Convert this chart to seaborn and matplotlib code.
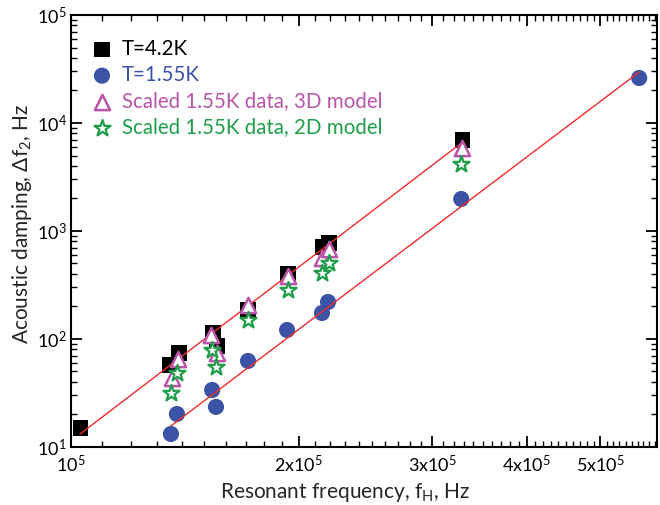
import matplotlib
matplotlib.use("Agg")
import matplotlib.pyplot as plt
import seaborn as sns
import numpy as np
import pandas as pd
from matplotlib.ticker import FixedLocator, FixedFormatter, LogLocator, NullFormatter

# ---------------- data ----------------
f_42 = [1.03e5, 1.351e5, 1.389e5, 1.540e5, 1.559e5, 1.713e5, 1.935e5, 2.152e5, 2.192e5, 3.286e5]
d_42 = [15.0, 57.4, 74.2, 113.6, 86.1, 185.6, 400, 711, 774, 6960]

f_155 = [1.355e5, 1.380e5, 1.536e5, 1.554e5, 1.713e5, 1.929e5, 2.145e5, 2.185e5, 3.276e5, 5.628e5]
d_155 = [13.2, 20.2, 33.7, 23.5, 62.6, 121, 174, 220, 1978, 26100]

f_3d = [1.359e5, 1.385e5, 1.531e5, 1.559e5, 1.713e5, 1.935e5, 2.145e5, 2.192e5, 3.286e5]
d_3d = [43.5, 65.3, 108.9, 74.2, 206, 383, 562, 681, 5870]

f_2d = [1.355e5, 1.380e5, 1.536e5, 1.554e5, 1.713e5, 1.935e5, 2.145e5, 2.192e5, 3.276e5]
d_2d = [31.6, 48.4, 79.1, 55.0, 150, 284, 408, 505, 4170]

fit_hi_f = [1.028e5, 3.265e5]
fit_hi_d = [13.2, 6397]
fit_lo_f = [1.355e5, 5.628e5]
fit_lo_d = [15.65, 29650]

labels = ["T=4.2K", "T=1.55K", "Scaled 1.55K data, 3D model", "Scaled 1.55K data, 2D model"]
x_ticks = [1e5, 2e5, 3e5, 4e5, 5e5]
x_ticklabels = ["$10^{5}$", "2x$10^{5}$", "3x$10^{5}$", "4x$10^{5}$", "5x$10^{5}$"]
y_ticks = [1e1, 1e2, 1e3, 1e4, 1e5]
y_ticklabels = ["$10^{1}$", "$10^{2}$", "$10^{3}$", "$10^{4}$", "$10^{5}$"]

# ---------------- style ----------------
sns.set_theme(style="ticks")
plt.rcParams["font.family"] = ["Lato", "DejaVu Sans"]
plt.rcParams["mathtext.fontset"] = "custom"
plt.rcParams["mathtext.rm"] = "Lato"
plt.rcParams["mathtext.it"] = "Lato:italic"
plt.rcParams["mathtext.default"] = "regular"

c_black = "#000000"
c_blue = "#3b53a4"
c_mag = "#b955aa"
c_green = "#1f9e4a"
c_red = "#ee2a2a"

fig = plt.figure(figsize=(6.6, 5.05), dpi=100)
ax = fig.add_axes([0.1076, 0.1149, 0.888, 0.8554])
ax.set_xscale("log")
ax.set_yscale("log")

sns.scatterplot(x=f_42, y=d_42, marker="s", s=120, color=c_black, edgecolor="none",
                label=labels[0], ax=ax, zorder=2)
sns.scatterplot(x=f_155, y=d_155, marker="o", s=135, color=c_blue, edgecolor="none",
                label=labels[1], ax=ax, zorder=2)
sns.lineplot(x=fit_hi_f, y=fit_hi_d, color=c_red, lw=1.0, ax=ax, zorder=3, legend=False)
sns.lineplot(x=fit_lo_f, y=fit_lo_d, color=c_red, lw=1.0, ax=ax, zorder=3, legend=False)
sns.scatterplot(x=f_3d, y=d_3d, marker="^", s=120, facecolor="white", edgecolor=c_mag,
                linewidth=1.8, label=labels[2], ax=ax, zorder=4)
sns.scatterplot(x=f_2d, y=d_2d, marker="*", s=150, facecolor="white", edgecolor=c_green,
                linewidth=1.6, label=labels[3], ax=ax, zorder=5)

ax.set_xlim(1e5, 5.943e5)
ax.set_ylim(1e1, 1e5)

ax.xaxis.set_major_locator(FixedLocator(x_ticks))
ax.xaxis.set_major_formatter(FixedFormatter(x_ticklabels))
ax.xaxis.set_minor_locator(LogLocator(base=10, subs=np.arange(1.0, 10.0, 0.1), numticks=200))
ax.xaxis.set_minor_formatter(NullFormatter())
ax.yaxis.set_major_locator(FixedLocator(y_ticks))
ax.yaxis.set_major_formatter(FixedFormatter(y_ticklabels))
ax.yaxis.set_minor_locator(LogLocator(base=10, subs=np.arange(2, 10), numticks=50))
ax.yaxis.set_minor_formatter(NullFormatter())

ax.tick_params(which="both", direction="in", top=True, right=True, colors="black",
               labelsize=13)
ax.tick_params(axis="x", which="major", pad=5)
ax.tick_params(axis="y", which="major", pad=3)
ax.tick_params(which="major", length=8, width=1.3)
ax.tick_params(which="minor", length=4, width=1.0)
for sp in ax.spines.values():
    sp.set_linewidth(1.5)
    sp.set_color("black")

ax.set_xlabel("Resonant frequency, f$_{H}$, Hz", fontsize=15)
ax.set_ylabel("Acoustic damping, \u0394f$_{2}$, Hz", fontsize=15)
ax.xaxis.set_label_coords(0.468, -0.079)
ax.yaxis.set_label_coords(-0.064, 0.516)

leg = ax.legend(loc="upper left", bbox_to_anchor=(0.002, 0.978), frameon=False,
                fontsize=14.8, handletextpad=0.2, labelspacing=0.3, borderaxespad=0.3,
                handlelength=1.5)
for txt, col in zip(leg.get_texts(), [c_black, c_blue, c_mag, c_green]):
    txt.set_color(col)

fig.savefig("out.png", dpi=100)
